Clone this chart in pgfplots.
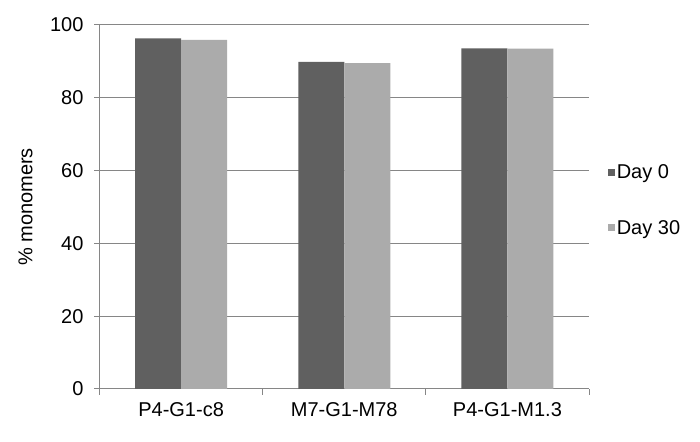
\documentclass[border=0pt]{standalone}
\usepackage{pgfplots}
\pgfplotsset{compat=1.18}
\usepackage{fontspec}
\setmainfont{Liberation Sans}
\definecolor{dayzero}{RGB}{96,96,96}
\definecolor{daythirty}{RGB}{171,171,171}
\definecolor{gridgray}{RGB}{134,134,134}

\begin{document}
\begin{tikzpicture}[x=1pt,y=1pt]
\useasboundingbox (0,0) rectangle (700,441);
\begin{axis}[
    at={(99.5pt,52pt)}, anchor=south west,
    scale only axis, width=489.5pt, height=364pt,
    font=\fontsize{20}{24}\selectfont,
    /pgf/number format/assume math mode=true,
    ybar=0pt, bar width=46pt,
    xmin=-0.5, xmax=2.5, ymin=0, ymax=100,
    xtick={-0.5,0.5,1.5,2.5}, xticklabels={},
    extra x ticks={0,1,2},
    extra x tick labels={P4-G1-c8, M7-G1-M78, P4-G1-M1.3},
    extra x tick style={major tick length=0pt},
    ytick={0,20,...,100},
    ymajorgrids, grid style={gridgray, line width=1pt},
    axis x line*=bottom, axis y line*=left,
    axis line style={gridgray, line width=1pt, -},
    tick style={gridgray, line width=1pt},
    tick align=outside, major tick length=5.5pt,
    yticklabel style={xshift=-7pt},
    xticklabel style={yshift=-10pt},
    ylabel={\% monomers},
    every axis y label/.style={at={(axis description cs:-0.151,0.5)}, rotate=90, anchor=center},
    legend style={draw=none, fill=none, at={(1.039,0.519)}, anchor=west,
        row sep=40pt, inner sep=0pt, nodes={inner xsep=1.5pt, inner ysep=0pt},
        font=\fontsize{20}{24}\selectfont},
    legend cell align=left,
    legend image code/.code={\fill[#1] (0pt,-3.5pt) rectangle (7pt,3.5pt);},
]
\addplot[fill=dayzero, draw=none] coordinates {(0,96.3) (1,89.9) (2,93.6)};
\addlegendentry{Day 0}
\addplot[fill=daythirty, draw=none] coordinates {(0,95.9) (1,89.5) (2,93.5)};
\addlegendentry{Day 30}
\end{axis}
\end{tikzpicture}
\end{document}
